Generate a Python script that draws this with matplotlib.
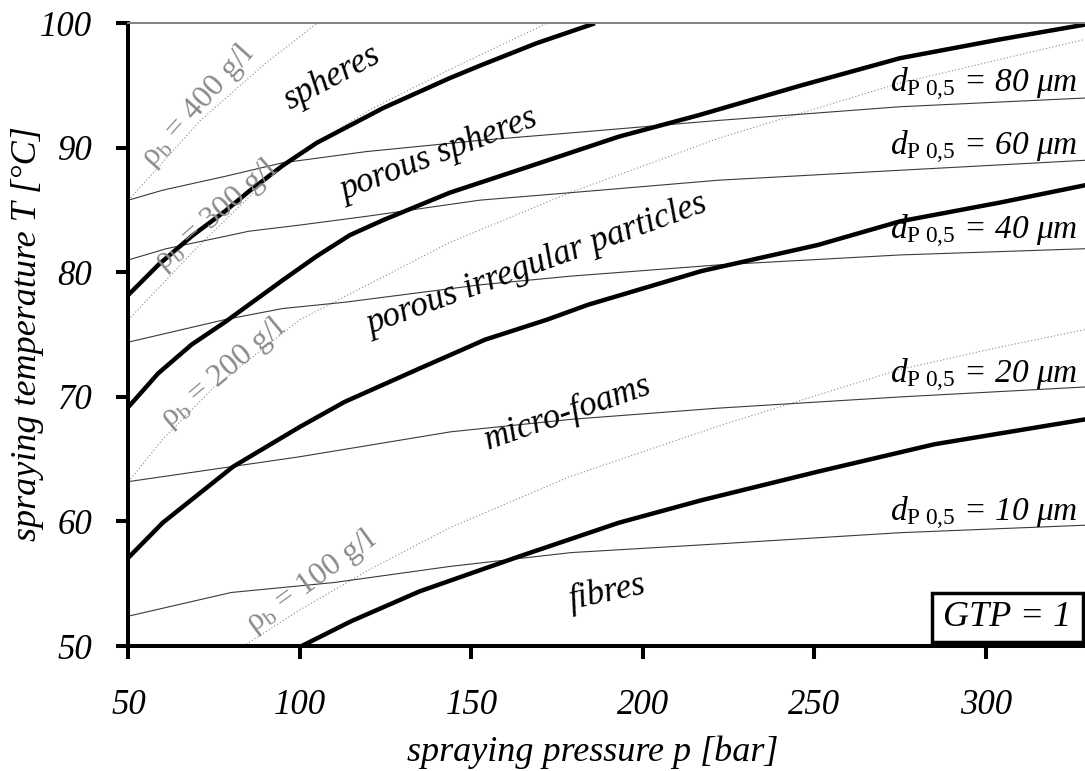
import matplotlib
matplotlib.use("Agg")
import matplotlib.pyplot as plt
from matplotlib.patches import Rectangle
import numpy as np

"""
morphology map: spraying temperature vs spraying pressure, GTP = 1
"""

plt.rcParams['font.family'] = ['Liberation Serif', 'DejaVu Serif']
plt.rcParams['mathtext.fontset'] = 'custom'
plt.rcParams['mathtext.rm'] = 'Liberation Serif'
plt.rcParams['mathtext.it'] = 'Liberation Serif:italic'

# thick boundaries between particle morphologies
p_A = [50, 58.7, 68.4, 78.1, 85.1, 95.1, 104.9, 114.6, 124.3, 134, 143.7, 152.5, 169, 186]
T_A = [78.2, 80.6, 82.9, 84.9, 86.5, 88.6, 90.4, 91.8, 93.2, 94.4, 95.6, 96.6, 98.4, 100.0]
p_B = [50, 58.7, 68.4, 78.1, 85.1, 95.1, 104.9, 114.6, 124.3, 134, 143.7, 152.5, 169, 193, 216, 246, 275, 304, 329]
T_B = [69.2, 71.9, 74.2, 76.0, 77.4, 79.4, 81.3, 83.0, 84.2, 85.3, 86.4, 87.2, 88.7, 90.9, 92.6, 95.0, 97.2, 98.7, 99.9]
p_C = [50, 60, 80.5, 100, 113, 135, 154, 172, 184, 217, 251, 275, 304, 329]
T_C = [57.1, 59.9, 64.4, 67.6, 69.6, 72.3, 74.6, 76.2, 77.4, 80.1, 82.2, 84.1, 85.6, 87.0]
p_D = [100.5, 115, 135, 164, 193, 217, 251, 285, 329]
T_D = [50.0, 52.0, 54.4, 57.2, 59.9, 61.7, 64.0, 66.2, 68.2]

# particle size isolines d_P0,5
p_d80 = [50, 60, 78, 95, 119.4, 152.5, 179, 222, 275, 329]
T_d80 = [85.8, 86.6, 87.7, 88.8, 89.7, 90.6, 91.2, 92.2, 93.3, 94.0]
p_d60 = [50, 61, 80, 85, 100, 119.4, 152.5, 179, 222, 275, 329]
T_d60 = [81.0, 81.9, 83.0, 83.3, 83.8, 84.5, 85.8, 86.4, 87.4, 88.2, 89.0]
p_d40 = [50, 78, 95, 113, 152.5, 179, 222, 275, 329]
T_d40 = [74.4, 76.2, 77.1, 77.6, 79.0, 79.7, 80.6, 81.4, 81.9]
p_d20 = [50, 80, 100, 144, 179, 222, 275, 329]
T_d20 = [63.2, 64.4, 65.2, 67.2, 68.2, 69.1, 70.0, 70.8]
p_d10 = [50, 80, 110, 144, 179, 222, 275, 329]
T_d10 = [52.4, 54.3, 55.1, 56.4, 57.5, 58.2, 59.1, 59.7]

# bulk density isolines rho_b
p_r400 = [50, 71, 90, 105]
T_r400 = [85.8, 92.2, 96.8, 100.0]
p_r300 = [50, 70, 94.7, 120, 143.7, 172]
T_r300 = [76.2, 82.0, 88.6, 93.0, 96.3, 100.0]
p_r200 = [50, 60, 75, 100, 143.7, 178.7, 222.4, 274.9, 328.8]
T_r200 = [63.2, 66.6, 70.8, 76.2, 82.4, 86.4, 90.8, 95.2, 98.7]
p_r100 = [83.5, 100, 120, 143.7, 178.7, 222.4, 274.9, 304, 328.8]
T_r100 = [50.0, 52.9, 56.1, 59.5, 63.6, 67.7, 72.2, 74.0, 75.4]

x_ticks = [50, 100, 150, 200, 250, 300]
y_ticks = [50, 60, 70, 80, 90, 100]

fig = plt.figure(figsize=(10.85, 7.71), dpi=100)
ax = fig.add_axes([0.1184, 0.1621, 0.8816, 0.8077])

for p, T in [(p_r400, T_r400), (p_r300, T_r300), (p_r200, T_r200), (p_r100, T_r100)]:
	ax.plot(p, T, color="#8a8a8a", lw=0.8, ls=(0, (1, 2)))

for p, T in [(p_d80, T_d80), (p_d60, T_d60), (p_d40, T_d40), (p_d20, T_d20), (p_d10, T_d10)]:
	ax.plot(p, T, color="#3a3a3a", lw=0.8)

for p, T in [(p_A, T_A), (p_B, T_B), (p_C, T_C), (p_D, T_D)]:
	ax.plot(p, T, color="black", lw=3.2, solid_capstyle="butt", solid_joinstyle="round")

ax.set_xlim(50, 328.9)
ax.set_ylim(50, 100)
ax.set_xticks(x_ticks)
ax.set_yticks(y_ticks)

for s in ["left", "bottom"]:
	ax.spines[s].set_linewidth(2.9)
ax.spines["right"].set_visible(False)
ax.spines["top"].set_color("#808080")
ax.spines["top"].set_linewidth(1.4)

ax.tick_params(direction="out", length=9, width=2.9, labelsize=25)
ax.tick_params(axis="x", pad=22)
ax.tick_params(axis="y", pad=17)
for lab in ax.get_xticklabels() + ax.get_yticklabels():
	lab.set_fontstyle("italic")

ax.set_xlabel("spraying pressure p [bar]", fontsize=26, style="italic")
ax.set_ylabel("spraying temperature T [°C]", fontsize=26, style="italic")
ax.xaxis.set_label_coords(0.4856, -0.143)
ax.yaxis.set_label_coords(-0.088, 0.502)

# region names
tfont = dict(fontsize=25, style="italic", ha="center", va="center")
ax.text(109.5, 95.6, "spheres", rotation=28, **tfont)
ax.text(140.5, 89.4, "porous spheres", rotation=21, **tfont)
ax.text(169, 80.6, "porous irregular particles", rotation=20, **tfont)
ax.text(178, 68.7, "micro-foams", rotation=19, **tfont)
ax.text(189.5, 54.3, "fibres", rotation=12, **tfont)

# density labels
rfont = dict(fontsize=23, color="#8a8a8a", ha="center", va="center")
ax.text(70.3, 93.4, r"ρ$_\mathrm{b}$ = 400 g/l", rotation=48, **rfont)
ax.text(75.5, 84.6, r"ρ$_\mathrm{b}$ = 300 g/l", rotation=41, **rfont)
ax.text(77.5, 71.9, r"ρ$_\mathrm{b}$ = 200 g/l", rotation=40, **rfont)
ax.text(103.4, 55.2, r"ρ$_\mathrm{b}$ = 100 g/l", rotation=36, **rfont)

# particle size labels
dsizes = [80, 60, 40, 20, 10]
dbase = [94.5, 89.4, 82.7, 71.1, 60.0]
for d, yb in zip(dsizes, dbase):
	ax.text(326.8, yb, r"$d_{\mathrm{P\ 0{,}5}}$" + " = %d μm" % d, fontsize=24,
		style="italic", ha="right", va="baseline")

ax.add_patch(Rectangle((0.8397, 0.0069), 0.1585, 0.0777, transform=ax.transAxes,
	fc="white", ec="black", lw=2.5, zorder=5))
ax.text(0.919, 0.0458, "GTP = 1", transform=ax.transAxes, fontsize=26, style="italic",
	ha="center", va="center", zorder=6)

fig.savefig("out.png", dpi=100)
